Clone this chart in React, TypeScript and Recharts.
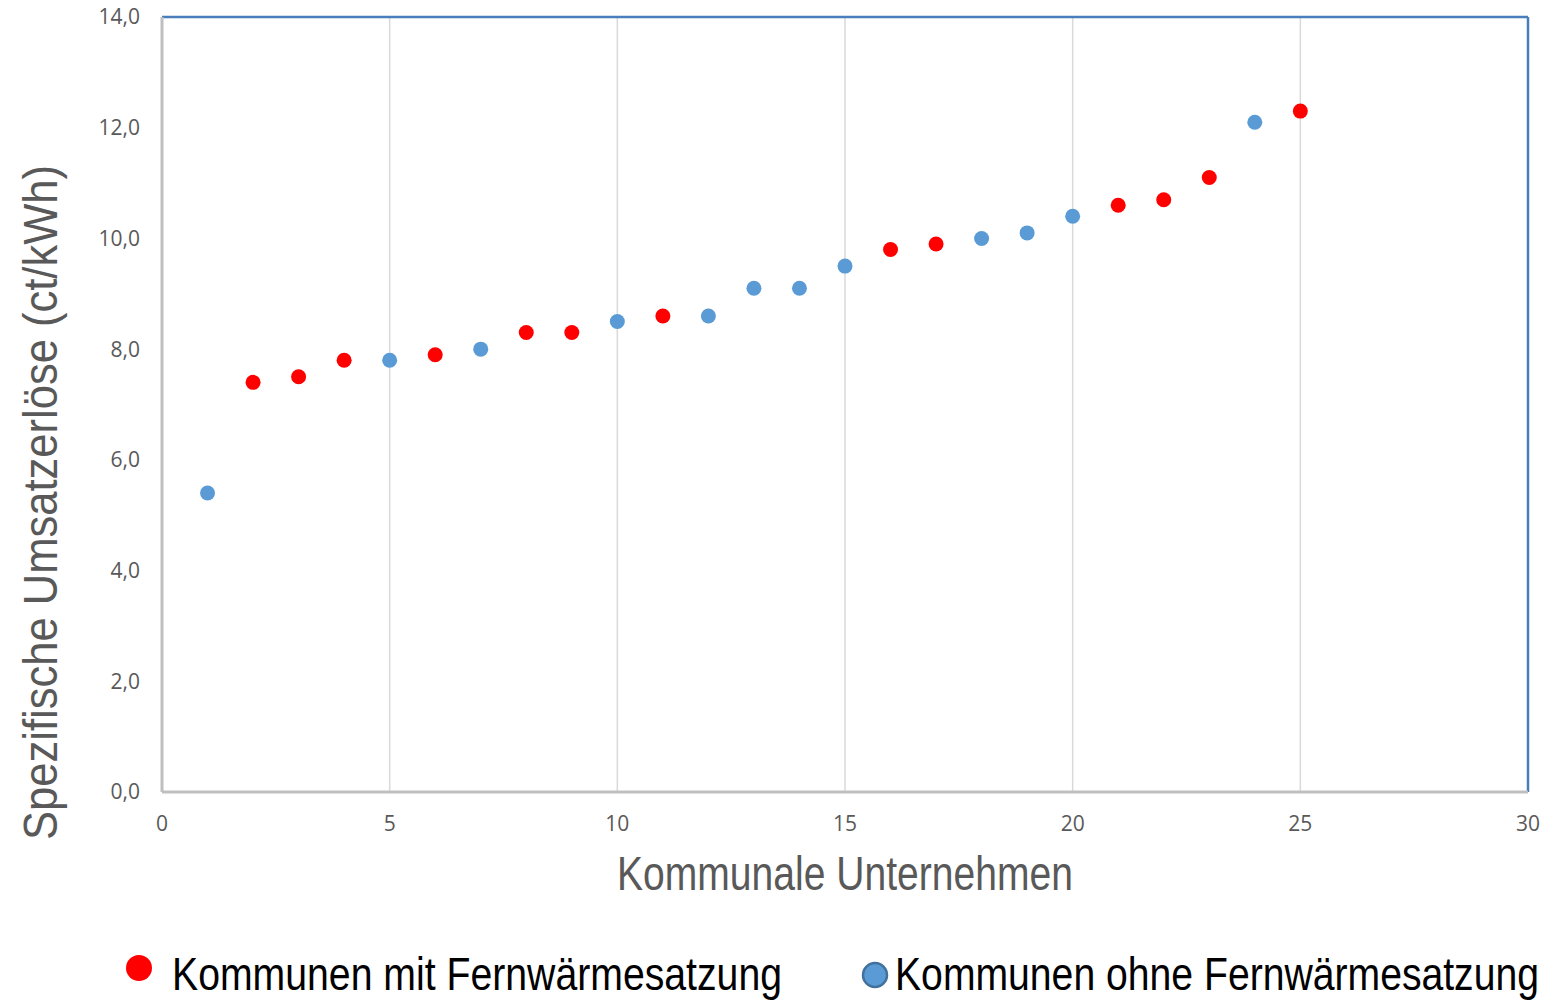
import React from "react";
import {
  CartesianGrid,
  Label,
  Legend,
  ReferenceLine,
  Scatter,
  ScatterChart,
  XAxis,
  YAxis,
} from "recharts";

const RED = "#FF0000";
const BLUE = "#5B9BD5";
const BLUE_EDGE = "#41719C";
const FRAME = "#4A7EBB";
const AXIS_GRAY = "#BFBFBF";
const GRID = "#D9D9D9";
const TEXT_GRAY = "#595959";

const mitX = [2, 3, 4, 6, 8, 9, 11, 16, 17, 21, 22, 23, 25];
const mitY = [7.4, 7.5, 7.8, 7.9, 8.3, 8.3, 8.6, 9.8, 9.9, 10.6, 10.7, 11.1, 12.3];

const ohneX = [1, 5, 7, 10, 12, 13, 14, 15, 18, 19, 20, 24];
const ohneY = [5.4, 7.8, 8.0, 8.5, 8.6, 9.1, 9.1, 9.5, 10.0, 10.1, 10.4, 12.1];

const xTicks = [0, 5, 10, 15, 20, 25, 30];
const yTicks = [0, 2, 4, 6, 8, 10, 12, 14];

const mitData = mitX.map((x, i) => ({ x, y: mitY[i] }));
const ohneData = ohneX.map((x, i) => ({ x, y: ohneY[i] }));

const NARROW = "'Liberation Sans Narrow', 'Arial Narrow', 'Liberation Sans', Arial, sans-serif";
const TICK_FONT = "'Open Sans', 'Noto Sans', sans-serif";

function LegendContent() {
  return (
    <svg width={1550} height={60} style={{ display: "block" }}>
      <circle cx={139} cy={28} r={13} fill={RED} />
      <text
        x={172}
        y={50}
        fontFamily={NARROW}
        fontSize={47}
        fill="#000"
        textLength={610}
        lengthAdjust="spacingAndGlyphs"
      >
        Kommunen mit Fernwärmesatzung
      </text>
      <circle cx={875} cy={35} r={12} fill={BLUE} stroke={BLUE_EDGE} strokeWidth={2.5} />
      <text
        x={895}
        y={50}
        fontFamily={NARROW}
        fontSize={47}
        fill="#000"
        textLength={644}
        lengthAdjust="spacingAndGlyphs"
      >
        Kommunen ohne Fernwärmesatzung
      </text>
    </svg>
  );
}

export default function App() {
  return (
    <div style={{ position: "absolute", left: 0, top: 0, width: 1550, height: 1000, background: "#fff" }}>
      <ScatterChart width={1550} height={1000} margin={{ top: 17, right: 22, left: 82, bottom: 0 }}>
        <CartesianGrid horizontal={false} stroke={GRID} strokeWidth={1.5} verticalValues={xTicks} />
        <XAxis
          type="number"
          dataKey="x"
          domain={[0, 30]}
          ticks={xTicks}
          interval={0}
          height={208}
          axisLine={{ stroke: AXIS_GRAY, strokeWidth: 3 }}
          tickLine={false}
          tickSize={0}
          tickMargin={24}
          tick={{ fill: TEXT_GRAY, fontSize: 21, fontFamily: TICK_FONT }}
        >
          <Label
            content={({ viewBox }: any) => (
              <text
                x={viewBox.x + viewBox.width / 2}
                y={viewBox.y + 98}
                textAnchor="middle"
                fontFamily={NARROW}
                fontSize={48}
                fill={TEXT_GRAY}
                textLength={456}
                lengthAdjust="spacingAndGlyphs"
              >
                Kommunale Unternehmen
              </text>
            )}
          />
        </XAxis>
        <YAxis
          type="number"
          dataKey="y"
          domain={[0, 14]}
          ticks={yTicks}
          interval={0}
          width={80}
          axisLine={{ stroke: AXIS_GRAY, strokeWidth: 3 }}
          tickLine={false}
          tickSize={0}
          tickMargin={22}
          tickFormatter={(v: number) => v.toFixed(1).replace(".", ",")}
          tick={{ fill: TEXT_GRAY, fontSize: 21, fontFamily: TICK_FONT }}
        >
          <Label
            content={({ viewBox }: any) => {
              const cx = 40;
              const cy = viewBox.y + viewBox.height / 2 + 98;
              return (
                <text
                  x={cx}
                  y={cy}
                  transform={`rotate(-90 ${cx} ${cy})`}
                  textAnchor="middle"
                  dominantBaseline="central"
                  fontFamily={NARROW}
                  fontSize={48}
                  fill={TEXT_GRAY}
                  textLength={675}
                  lengthAdjust="spacingAndGlyphs"
                >
                  Spezifische Umsatzerlöse (ct/kWh)
                </text>
              );
            }}
          />
        </YAxis>
        <ReferenceLine y={14} stroke={FRAME} strokeWidth={2.5} />
        <ReferenceLine x={30} stroke={FRAME} strokeWidth={2.5} />
        <Legend
          layout="horizontal"
          verticalAlign="middle"
          align="center"
          wrapperStyle={{ top: 940, left: 0, width: 1550 }}
          content={() => <LegendContent />}
        />
        <Scatter
          name="Kommunen mit Fernwärmesatzung"
          data={mitData}
          fill={RED}
          isAnimationActive={false}
          shape={(p: any) => <circle cx={p.cx} cy={p.cy} r={7.5} fill={RED} />}
        />
        <Scatter
          name="Kommunen ohne Fernwärmesatzung"
          data={ohneData}
          fill={BLUE}
          isAnimationActive={false}
          shape={(p: any) => <circle cx={p.cx} cy={p.cy} r={7.5} fill={BLUE} />}
        />
      </ScatterChart>
    </div>
  );
}
